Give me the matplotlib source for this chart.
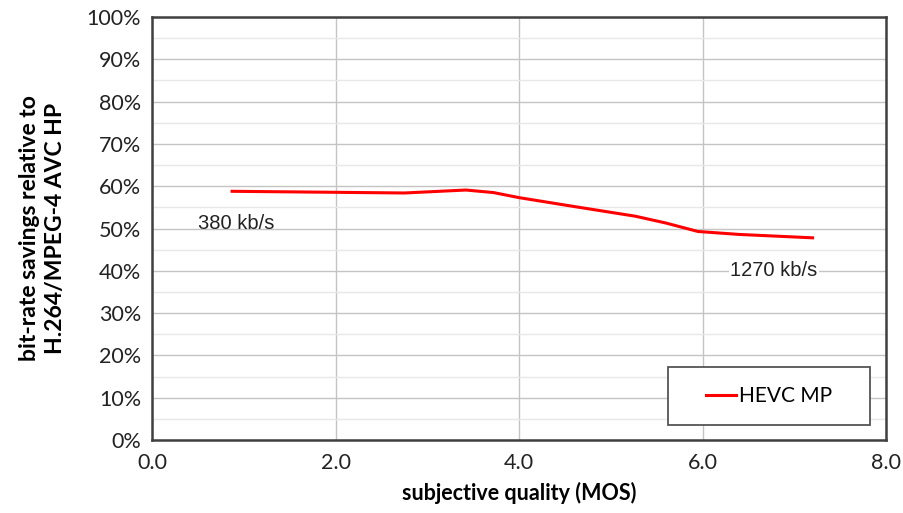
import matplotlib
matplotlib.use("Agg")
import matplotlib.pyplot as plt
from matplotlib.patches import Rectangle
from matplotlib.ticker import MultipleLocator, FuncFormatter

# Subjective quality (MOS) vs. bit-rate savings of HEVC MP over H.264/MPEG-4 AVC HP
mos = [0.87, 2.75, 3.42, 3.72, 4.00, 4.60, 5.27, 5.60, 5.95, 6.40, 7.20]
savings = [58.8, 58.4, 59.1, 58.5, 57.3, 55.2, 52.9, 51.3, 49.3, 48.6, 47.8]
series_name = "HEVC MP"
label_low = "380 kb/s"
label_high = "1270 kb/s"
xticks = [0.0, 2.0, 4.0, 6.0, 8.0]
yticks = list(range(0, 101, 10))

tick_font = "Lato"
fig = plt.figure(figsize=(9.04, 5.13), dpi=100)
ax = fig.add_axes([0.1685, 0.1423, 0.8115, 0.8245])

ax.plot(mos, savings, color="#ff0000", lw=2.2, label=series_name, zorder=3)

ax.set_xlim(0, 8)
ax.set_ylim(0, 100)
ax.set_xticks(xticks)
ax.set_yticks(yticks)
ax.yaxis.set_minor_locator(MultipleLocator(5))
ax.xaxis.set_major_formatter(FuncFormatter(lambda v, p: f"{v:.1f}"))
ax.yaxis.set_major_formatter(FuncFormatter(lambda v, p: f"{v:.0f}%"))

ax.grid(which="major", color="#c4c4c4", lw=1.0)
ax.grid(which="minor", axis="y", color="#e8e8e8", lw=1.0)
ax.set_axisbelow(True)
ax.tick_params(which="both", length=0, labelsize=15.5)
ax.tick_params(axis="y", pad=8)
ax.tick_params(axis="x", pad=9)
for lab in ax.get_xticklabels() + ax.get_yticklabels():
    lab.set_fontfamily(tick_font)
    lab.set_color("#222222")

for s in ax.spines.values():
    s.set_color("#404040")
    s.set_linewidth(1.8)

ax.set_xlabel("subjective quality (MOS)", fontsize=15.5, fontweight="bold",
              fontfamily=tick_font, labelpad=7)
ax.set_ylabel("bit-rate savings relative to\nH.264/MPEG-4 AVC HP", fontsize=16.5,
              fontweight="bold", fontfamily=tick_font, labelpad=15, linespacing=1.3)

ax.text(0.91, 51.2, label_low, fontsize=14.5, fontfamily="Liberation Sans",
        ha="center", va="center", color="#222222")
ax.text(6.78, 40.1, label_high, fontsize=14.5, fontfamily="Liberation Sans",
        ha="center", va="center", color="#222222",
        bbox=dict(facecolor="white", edgecolor="none", pad=1))

# legend frame drawn as its own box, legend entry centred inside it
box_x0, box_y0, box_w, box_h = 0.7035, 0.0354, 0.2745, 0.1368
ax.add_patch(Rectangle((box_x0, box_y0), box_w, box_h, transform=ax.transAxes,
                       facecolor="white", edgecolor="#555555", lw=1.3, zorder=4))
leg = ax.legend(loc="center",
                bbox_to_anchor=(box_x0 + box_w / 2, box_y0 + box_h / 2),
                prop={"family": tick_font, "size": 15}, frameon=False,
                borderpad=0, handlelength=1.4, handletextpad=0.15,
                borderaxespad=0.0)
leg.set_zorder(5)

fig.savefig("out.png", dpi=100, facecolor="white")
